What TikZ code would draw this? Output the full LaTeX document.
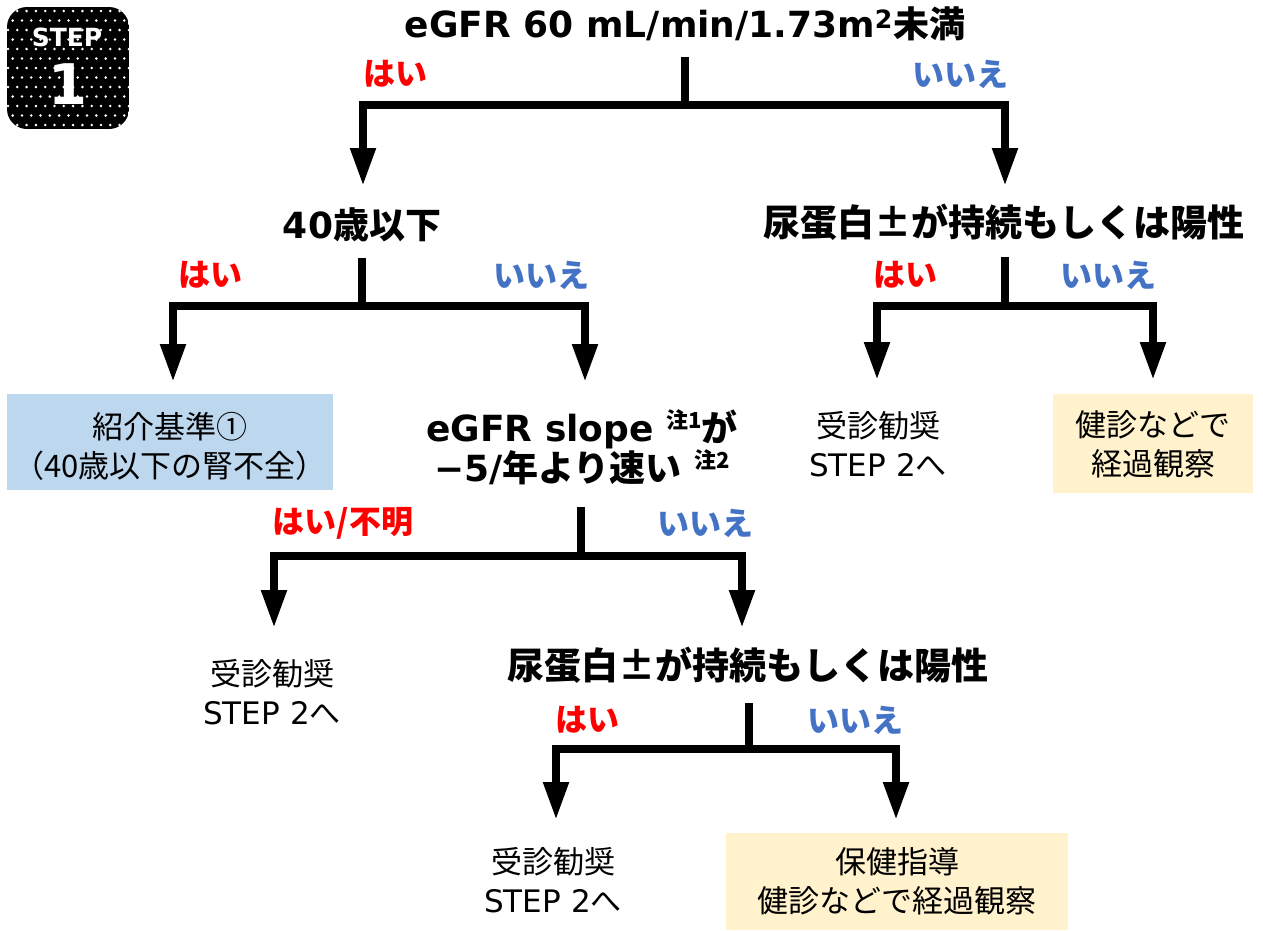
\documentclass[tikz,border=0pt]{standalone}
\usepackage{fontspec}
\setmainfont{DejaVu Sans}
\newfontfamily\jp{Noto Sans CJK JP}
\usetikzlibrary{arrows.meta}
\definecolor{noblue}{HTML}{4472C4}
\definecolor{boxblue}{HTML}{BDD7EE}
\definecolor{boxyel}{HTML}{FFF2CC}
\newcommand{\chu}[1]{\raisebox{0.36em}{\fontsize{22}{22}\selectfont\jp #1}}
\begin{document}
\begin{tikzpicture}[x=1pt,y=-1pt,
  stem/.style={line width=8pt},
  arr/.style={line width=8pt,-{Triangle[width=24pt,length=38pt]}},
  dec/.style={font=\bfseries\fontsize{36}{39}\selectfont,align=center,inner sep=0pt},
  yes/.style={font=\jp\bfseries\fontsize{32}{34}\selectfont,text=red,inner sep=0pt},
  nol/.style={font=\jp\bfseries\fontsize{32}{34}\selectfont,text=noblue,inner sep=0pt},
  plain/.style={font=\fontsize{31}{39}\selectfont,align=center,inner sep=0pt},
  bluebox/.style={fill=boxblue,draw=none},
  yelbox/.style={fill=boxyel,draw=none}]
\useasboundingbox (0,0) rectangle (1263,930);

% STEP badge
\begin{scope}
\clip[rounded corners=20pt] (7,7) rectangle (129,129);
\fill[black] (7,7) rectangle (129,129);
\foreach \j in {0,...,13}{
  \pgfmathsetmacro{\yy}{11+\j*9.5}
  \pgfmathsetmacro{\off}{mod(\j,2)*4.65}
  \foreach \i in {0,...,14}{
    \fill[white] ({8+\off+\i*9.3},\yy) circle (1.4pt);
  }
}
\end{scope}
\node[text=white,font=\bfseries\fontsize{25}{25}\selectfont,inner sep=0pt] (stp) at (67,37) {STEP};
\node[text=white,font=\bfseries\fontsize{56}{56}\selectfont,inner sep=0pt] (one) at (68,84) {1};

% Level 1
\node[dec] (t) at (685,24) {eGFR 60 mL/min/1.73m\textsuperscript{2}{\jp 未満}};
\coordinate (t-s) at (685,57);
\coordinate (j1) at (685,105);
\node[yes] (y1) at (395,74) {はい};
\node[nol] (n1) at (960,74) {いいえ};

% Level 2
\node[dec] (a40) at (362,225) {40{\jp 歳以下}};
\coordinate (a40-n) at (363,186);
\coordinate (a40-s) at (362,258);
\coordinate (j2) at (362,306);
\node[dec,font=\jp\bfseries\fontsize{37}{39}\selectfont] (up1) at (1004,222) {尿蛋白±が持続もしくは陽性};
\coordinate (up1-n) at (1005,186);
\coordinate (up1-s) at (1005,257);
\coordinate (j3) at (1005,306);
\draw[stem] (t-s) -- (j1);
\draw[arr] (j1) -| (a40-n);
\draw[arr] (j1) -| (up1-n);

\node[yes] (y2) at (210,275) {はい};
\node[nol] (n2) at (541,275) {いいえ};
\node[yes] (y3) at (905,275) {はい};
\node[nol] (n3) at (1108,275) {いいえ};

% Level 3
\fill[bluebox] (7,394) rectangle (333,490);
\node[plain,font=\jp\fontsize{31}{39}\selectfont] (ref) at (170,446) {紹介基準①\\（40歳以下の腎不全）};
\coordinate (ref-n) at (173,382);
\node[dec] (slope) at (582,447) {eGFR slope \chu{注1}{\jp が}\\[0pt]
 −5/{\jp 年より速い} \chu{注2}};
\coordinate (slope-n) at (585,382);
\coordinate (slope-s) at (581,507);
\coordinate (j4) at (581,556);
\node[plain] (rec1) at (878,444) {{\jp 受診勧奨}\\STEP 2{\jp へ}};
\coordinate (rec1-n) at (877,380);
\fill[yelbox] (1053,394) rectangle (1253,493);
\node[plain,font=\jp\fontsize{31}{39}\selectfont] (obs1) at (1153,444) {健診などで\\経過観察};
\coordinate (obs1-n) at (1153,380);
\draw[stem] (a40-s) -- (j2);
\draw[arr] (j2) -| (ref-n);
\draw[arr] (j2) -| (slope-n);
\draw[stem] (up1-s) -- (j3);
\draw[arr] (j3) -| (rec1-n);
\draw[arr] (j3) -| (obs1-n);

\node[yes] (y4) at (343,523) {はい/不明};
\node[nol] (n4) at (705,523) {いいえ};

% Level 4
\node[plain] (rec2) at (272,692) {{\jp 受診勧奨}\\STEP 2{\jp へ}};
\coordinate (rec2-n) at (274,628);
\node[dec,font=\jp\bfseries\fontsize{37}{39}\selectfont] (up2) at (748,665) {尿蛋白±が持続もしくは陽性};
\coordinate (up2-n) at (742,628);
\coordinate (up2-s) at (749,703);
\coordinate (j5) at (749,749);
\draw[stem] (slope-s) -- (j4);
\draw[arr] (j4) -| (rec2-n);
\draw[arr] (j4) -| (up2-n);

\node[yes] (y5) at (587,720) {はい};
\node[nol] (n5) at (855,720) {いいえ};

% Level 5
\node[plain] (rec3) at (553,880) {{\jp 受診勧奨}\\STEP 2{\jp へ}};
\coordinate (rec3-n) at (556,820);
\fill[yelbox] (726,833) rectangle (1068,930);
\node[plain,font=\jp\fontsize{31}{39}\selectfont] (obs2) at (897,881) {保健指導\\健診などで経過観察};
\coordinate (obs2-n) at (896,820);
\draw[stem] (up2-s) -- (j5);
\draw[arr] (j5) -| (rec3-n);
\draw[arr] (j5) -| (obs2-n);
\end{tikzpicture}
\end{document}
